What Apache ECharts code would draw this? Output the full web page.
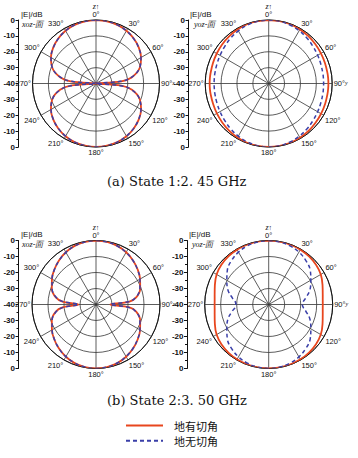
<!DOCTYPE html>
<html><head><meta charset="utf-8">
<script src="https://cdn.jsdelivr.net/npm/echarts@6/dist/echarts.min.js"></script>
<style>html,body{margin:0;padding:0;background:#fff}#c{width:358px;height:458px}</style>
</head><body><div id="c"></div>
<script>
// Angles (deg) at which the patterns were read
const ANGLES = [0,10,20,30,40,50,60,70,80,85,90,95,100,110,120,130,140,150,160,170,180,190,200,210,220,230,240,250,260,265,270,275,280,290,300,310,320,330,340,350,360];
// (a) State 1, 2.45 GHz, xoz plane (dB)
const A_XOZ_CUT   = [0,-0.2,-0.7,-1.6,-3.0,-4.8,-7.2,-10.6,-17.0,-24.0,-40,-24.0,-17.0,-10.6,-7.2,-4.8,-3.0,-1.6,-0.7,-0.2,0,-0.2,-0.7,-1.6,-3.0,-4.8,-7.2,-10.6,-17.0,-24.0,-40,-24.0,-17.0,-10.6,-7.2,-4.8,-3.0,-1.6,-0.7,-0.2,0];
const A_XOZ_NOCUT = [0,-0.2,-0.7,-1.7,-3.1,-4.9,-7.3,-10.7,-17.2,-24.5,-40,-24.5,-17.2,-10.7,-7.3,-4.9,-3.1,-1.7,-0.7,-0.2,0,-0.2,-0.7,-1.7,-3.1,-4.9,-7.3,-10.7,-17.2,-24.5,-40,-24.5,-17.2,-10.7,-7.3,-4.9,-3.1,-1.7,-0.7,-0.2,0];
// (a) yoz plane
const A_YOZ_CUT   = [0,-0.1,-0.3,-0.7,-1.1,-1.6,-2.0,-2.3,-2.4,-2.4,-2.4,-2.4,-2.4,-2.2,-1.9,-1.5,-1.0,-0.6,-0.3,-0.1,0,-0.1,-0.3,-0.7,-1.2,-1.8,-2.3,-2.7,-2.8,-2.8,-2.8,-2.8,-2.8,-2.6,-2.2,-1.7,-1.2,-0.7,-0.3,-0.1,0];
const A_YOZ_NOCUT = [0,-0.2,-0.8,-1.6,-2.6,-3.6,-4.4,-5.0,-5.3,-5.4,-5.4,-5.4,-5.3,-5.0,-4.4,-3.6,-2.6,-1.6,-0.8,-0.2,0,-0.2,-0.8,-1.7,-2.7,-3.8,-4.6,-5.2,-5.5,-5.6,-5.6,-5.6,-5.5,-5.2,-4.6,-3.8,-2.7,-1.7,-0.8,-0.2,0];
// (b) State 2, 3.50 GHz, xoz plane
const B_XOZ_CUT   = [0,-0.3,-1.0,-2.3,-4.0,-6.0,-8.2,-10.6,-14.5,-19.0,-31,-19.0,-14.5,-10.6,-8.2,-6.0,-4.0,-2.3,-1.0,-0.3,0,-0.3,-1.0,-2.3,-4.0,-6.0,-8.2,-10.6,-14.5,-19.0,-29,-19.0,-14.5,-10.6,-8.2,-6.0,-4.0,-2.3,-1.0,-0.3,0];
const B_XOZ_NOCUT = [0,-0.3,-1.1,-2.4,-4.1,-6.1,-8.3,-10.8,-14.8,-19.5,-31,-19.5,-14.8,-10.8,-8.3,-6.1,-4.1,-2.4,-1.1,-0.3,0,-0.3,-1.1,-2.4,-4.1,-6.1,-8.3,-10.8,-14.8,-19.5,-29,-19.5,-14.8,-10.8,-8.3,-6.1,-4.1,-2.4,-1.1,-0.3,0];
// (b) yoz plane
const B_YOZ_CUT   = [0,-0.05,-0.2,-0.4,-0.8,-1.4,-2.4,-4.2,-5.7,-6.1,-6.2,-6.1,-5.7,-4.2,-2.4,-1.4,-0.8,-0.4,-0.2,-0.05,0,-0.05,-0.2,-0.4,-0.8,-1.4,-2.4,-4.2,-5.7,-6.1,-6.2,-6.1,-5.7,-4.2,-2.4,-1.4,-0.8,-0.4,-0.2,-0.05,0];
const B_YOZ_NOCUT = [0,-0.3,-1.0,-2.2,-4.0,-6.2,-9.6,-12.5,-16.5,-18.3,-19.0,-18.3,-16.5,-12.5,-9.6,-6.2,-4.0,-2.2,-1.0,-0.3,0,-0.3,-1.0,-2.2,-4.0,-6.3,-9.8,-12.8,-17.0,-19.0,-19.5,-19.0,-17.0,-12.8,-9.8,-6.3,-4.0,-2.2,-1.0,-0.3,0];
// Tick labels
const DB_TICKS = ['0','-10','-20','-30','-40','-30','-20','-10','0'];
const ANGLE_TICKS = [0,30,60,90,120,150,180,210,240,270,300,330];
const SERIES_NAMES = ['地有切角','地无切角'];
const CAPTIONS = ['(a) State 1:2. 45 GHz','(b) State 2:3. 50 GHz'];
const PLANE_LABELS = ['xoz-面','yoz-面','xoz-面','yoz-面'];
const AXIS_NAMES = ['x','y','x','y'];

const RED = '#e8461e', BLUE = '#3a3fa8';
const SANS = 'Liberation Sans, Arial, sans-serif';
const PANELS = [
  {center:[96,83.5], r:63.5, cut:A_XOZ_CUT, nocut:A_XOZ_NOCUT},
  {center:[268.7,83.5], r:63.5, cut:A_YOZ_CUT, nocut:A_YOZ_NOCUT},
  {center:[96,304.5], r:64, cut:B_XOZ_CUT, nocut:B_XOZ_NOCUT},
  {center:[268.7,304.5], r:64, cut:B_YOZ_CUT, nocut:B_YOZ_NOCUT}
];
const DBAX = [
  {x:18.5, top:20, h:127},
  {x:188.5, top:20, h:127},
  {x:18.5, top:240.5, h:128},
  {x:187, top:240.5, h:128}
];
const HEAD = [[21,10.5,22,20.5],[190,10.5,194,20.5],[21,230.5,22,240.5],[189,230.5,192,240.5]];

const chart = echarts.init(document.getElementById('c'), null, {renderer:'svg'});
const series = [];
PANELS.forEach((p,i)=>{
  series.push({type:'line', name:SERIES_NAMES[0], coordinateSystem:'polar', polarIndex:i,
    data: ANGLES.map((a,k)=>[p.cut[k], a]), symbol:'none', smooth:0.4,
    lineStyle:{color:RED, width:1.8}, itemStyle:{color:RED}, z:3, animation:false});
  series.push({type:'line', name:SERIES_NAMES[1], coordinateSystem:'polar', polarIndex:i,
    data: ANGLES.map((a,k)=>[p.nocut[k], a]), symbol:'none', smooth:0.4,
    lineStyle:{color:BLUE, width:1.5, type:[4,3]}, itemStyle:{color:BLUE}, z:4, animation:false});
});
const titles = [];
CAPTIONS.forEach((t,i)=>titles.push({text:t, left:107, top:i===0?174.5:394, padding:0,
  textStyle:{fontFamily:'DejaVu Serif', fontSize:13, fontWeight:'normal', color:'#111'}}));
HEAD.forEach((h,i)=>{
  titles.push({text:'|E|/dB', left:h[0], top:h[1], padding:0, textStyle:{fontFamily:SANS, fontSize:8, fontWeight:'normal', color:'#111'}});
  titles.push({text:PLANE_LABELS[i], left:h[2], top:h[3], padding:0, textStyle:{fontFamily:'Liberation Serif', fontStyle:'italic', fontSize:8, fontWeight:'normal', color:'#111'}});
});
const option = {
  animation:false,
  backgroundColor:'#fff',
  title: titles,
  legend: {orient:'vertical', left:125, top:420, padding:0, itemWidth:37, itemHeight:14, itemGap:4,
    itemStyle:{opacity:0, borderWidth:0},
    data:SERIES_NAMES, textStyle:{fontFamily:'Noto Sans CJK SC', fontSize:11, color:'#111', padding:[0,0,0,6]}},
  polar: PANELS.map(p=>({center:p.center, radius:p.r})),
  angleAxis: PANELS.map((p,i)=>({polarIndex:i, type:'value', min:0, max:360, interval:30, startAngle:90, clockwise:true,
    axisLine:{show:true, lineStyle:{color:'#111', width:1}}, axisTick:{show:false},
    splitLine:{show:true, lineStyle:{color:'#333', width:0.8}},
    axisLabel:{margin:1.5, fontSize:7.5, color:'#111', fontFamily:SANS,
      formatter:(v)=>{ if(ANGLE_TICKS.indexOf(v)<0) return ''; if(v===0) return '{z|z}{ar|↑}\n0°'; if(v===90) return '90°{s|'+AXIS_NAMES[i]+'}'; return v+'°'; },
      rich:{z:{fontSize:8, fontStyle:'italic', fontFamily:'Liberation Serif'}, ar:{fontSize:7}, s:{fontSize:6, fontStyle:'italic', fontFamily:'Liberation Serif', verticalAlign:'top'}}}
  })),
  radiusAxis: PANELS.map((p,i)=>({polarIndex:i, type:'value', min:-40, max:0, interval:10,
    axisLine:{show:false}, axisTick:{show:false}, axisLabel:{show:false},
    splitLine:{show:true, lineStyle:{color:'#333', width:0.8}}})),
  grid: DBAX.map(g=>({left:g.x, top:g.top, width:1, height:g.h})),
  xAxis: DBAX.map((g,i)=>({gridIndex:i, type:'value', show:false})),
  yAxis: DBAX.map((g,i)=>({gridIndex:i, type:'value', min:0, max:80, interval:10, inverse:true,
    axisLine:{show:true, lineStyle:{color:'#111', width:1}},
    axisTick:{show:true, length:3, lineStyle:{color:'#111'}},
    minorTick:{show:true, splitNumber:2, length:2, lineStyle:{color:'#111'}},
    splitLine:{show:false},
    axisLabel:{margin:3.5, fontSize:8, color:'#111', fontFamily:SANS, fontWeight:'bold',
      formatter:(v)=>DB_TICKS[Math.round(v/10)]}
  })),
  series: series
};
chart.setOption(option);
</script></body></html>
